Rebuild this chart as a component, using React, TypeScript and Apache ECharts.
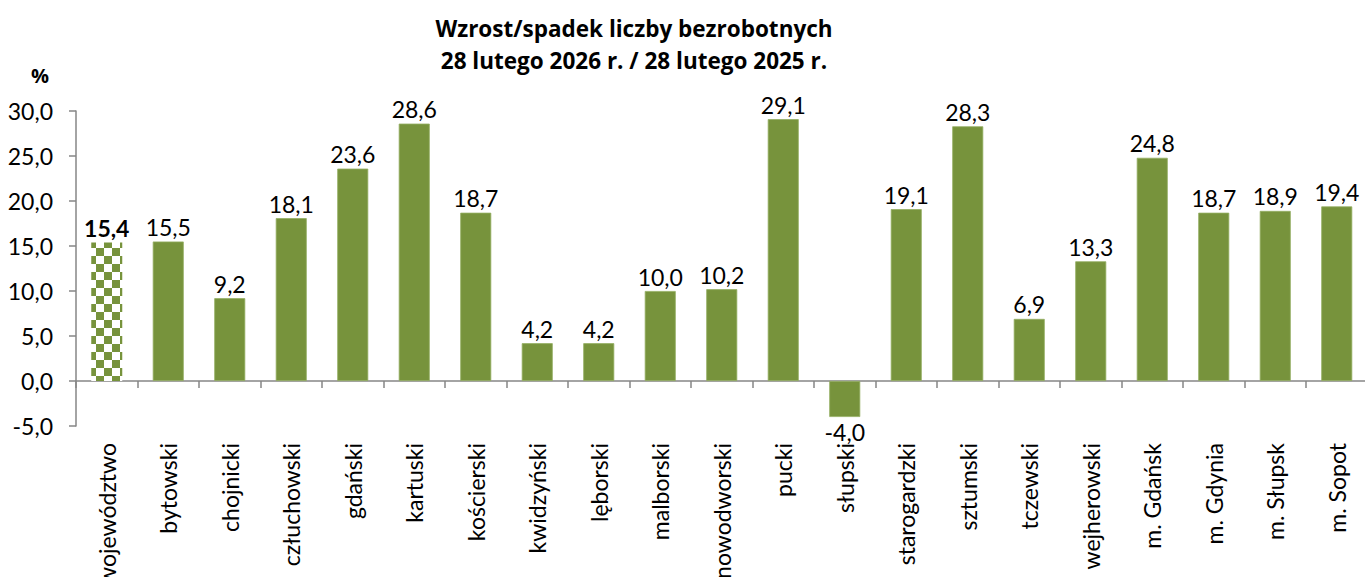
import React, { useEffect, useRef } from "react";
import * as echarts from "echarts";

const categories = [
  "województwo", "bytowski", "chojnicki", "człuchowski", "gdański", "kartuski",
  "kościerski", "kwidzyński", "lęborski", "malborski", "nowodworski", "pucki",
  "słupski", "starogardzki", "sztumski", "tczewski", "wejherowski", "m. Gdańsk",
  "m. Gdynia", "m. Słupsk", "m. Sopot",
];
const values = [
  15.4, 15.5, 9.2, 18.1, 23.6, 28.6, 18.7, 4.2, 4.2, 10.0, 10.2, 29.1, -4.0,
  19.1, 28.3, 6.9, 13.3, 24.8, 18.7, 18.9, 19.4,
];
const titleLines = [
  "Wzrost/spadek liczby bezrobotnych",
  "28 lutego 2026 r. / 28 lutego 2025 r.",
];
const yUnit = "%";

const GREEN = "#77933C";
const FONT = "Lato, 'Open Sans', sans-serif";
const TFONT = "'Open Sans', Lato, sans-serif";
const fmt = (v: number) => v.toFixed(1).replace(".", ",");

export default function App() {
  const ref = useRef<HTMLDivElement>(null);
  useEffect(() => {
    if (!ref.current) return;
    const chart = echarts.init(ref.current, null, { renderer: "svg" });
    const data = values.map((v, i) => {
      const item: any = { value: v };
      if (i === 0) {
        item.itemStyle = {
          color: "#ffffff",
          borderWidth: 0,
          decal: {
            symbol: "rect",
            symbolSize: 1,
            color: GREEN,
            dashArrayX: [[8, 8], [0, 8, 8, 0]],
            dashArrayY: [8, 0],
            rotation: 0,
          },
        };
        item.label = { fontWeight: "bold" };
      }
      return item;
    });
    chart.setOption({
      animation: false,
      grid: {
        left: 76,
        top: 111,
        width: 21 * 61.5,
        height: 315,
        containLabel: false,
        outerBoundsMode: "none",
      },
      graphic: [
        {
          type: "text",
          x: 634,
          y: 28,
          style: {
            text: titleLines[0],
            font: `bold 22.5px ${TFONT}`,
            fill: "#000",
            textAlign: "center",
            textVerticalAlign: "middle",
          },
        },
        {
          type: "text",
          x: 634,
          y: 60,
          style: {
            text: titleLines[1],
            font: `bold 22.5px ${TFONT}`,
            fill: "#000",
            textAlign: "center",
            textVerticalAlign: "middle",
          },
        },
        {
          type: "text",
          x: 40,
          y: 75,
          style: {
            text: yUnit,
            font: `bold 20px ${TFONT}`,
            fill: "#000",
            textAlign: "center",
            textVerticalAlign: "middle",
          },
        },
      ],
      xAxis: {
        type: "category",
        data: categories,
        axisLine: { onZero: true, lineStyle: { color: "#868686", width: 1.5 } },
        axisTick: { show: true, length: 7, lineStyle: { color: "#868686", width: 1.5 } },
        axisLabel: {
          interval: 0,
          rotate: 90,
          margin: 17,
          fontSize: 23,
          fontFamily: FONT,
          color: "#000",
        },
      },
      yAxis: {
        type: "value",
        min: -5,
        max: 30,
        interval: 5,
        splitLine: { show: false },
        axisLine: { show: true, lineStyle: { color: "#868686", width: 1.5 } },
        axisTick: { show: true, length: 7, lineStyle: { color: "#868686", width: 1.5 } },
        axisLabel: {
          margin: 23,
          fontSize: 23,
          fontFamily: FONT,
          color: "#000",
          formatter: (v: number) => fmt(v),
        },
      },
      series: [
        {
          type: "bar",
          data,
          barWidth: 31,
          itemStyle: { color: GREEN, borderColor: "#94AE62", borderWidth: 0.8 },
          label: {
            show: true,
            position: "outside",
            distance: 3,
            fontSize: 23,
            fontFamily: FONT,
            color: "#000",
            formatter: (p: any) => fmt(p.value),
          },
        },
      ],
    });
    return () => chart.dispose();
  }, []);
  return (
    <div
      ref={ref}
      style={{ position: "fixed", left: 0, top: 0, width: 1365, height: 577, background: "#fff" }}
    />
  );
}
